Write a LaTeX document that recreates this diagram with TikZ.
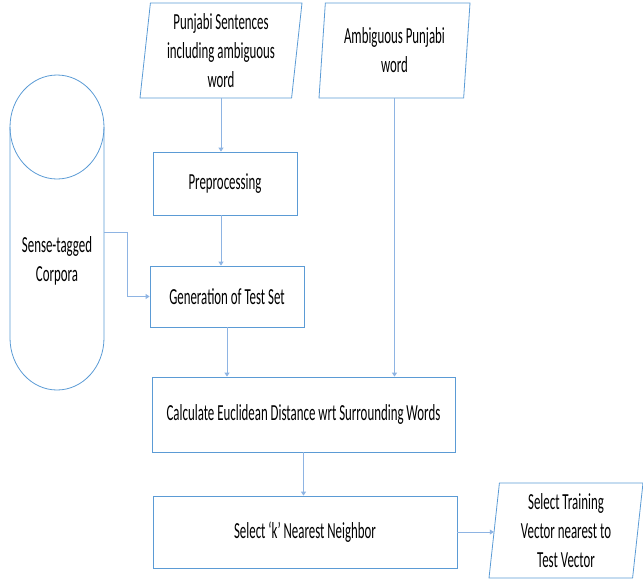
\documentclass[tikz,border=0pt]{standalone}
\usepackage{fontspec}
\setmainfont[FakeStretch=0.56]{Carlito}
\usetikzlibrary{shapes.geometric,arrows.meta}
\definecolor{boxblue}{HTML}{5B9BD5}
\definecolor{linkblue}{HTML}{8EB4E3}
\tikzset{
  stepbox/.style={draw=boxblue, line width=0.8pt, rectangle, inner sep=0pt, align=center},
  inputbox/.style={draw=boxblue, line width=0.8pt, trapezium, trapezium left angle=82,
    trapezium right angle=98, trapezium stretches body, inner sep=0pt, align=center},
  boxline/.style={draw=boxblue, line width=0.8pt},
  link/.style={draw=linkblue, line width=0.8pt, -{Triangle[width=5pt,length=4pt]}},
}
\begin{document}
\begin{tikzpicture}[x=1pt,y=-1pt,font=\fontsize{23}{29}\selectfont]
  \useasboundingbox (0,0) rectangle (643,582);
  % inputs
  \node[inputbox, minimum width=162pt, minimum height=95pt] (sent) at (221,50.5)
    {Punjabi Sentences\\including ambiguous\\word};
  \node[inputbox, minimum width=151pt, minimum height=95pt] (amb) at (394.5,50.5)
    {Ambiguous Punjabi\\word};
  % corpora
  \node[minimum width=94pt, minimum height=315pt, inner sep=0pt,
    label={[align=center, yshift=-28pt]center:Sense-tagged\\Corpora}] (corpora) at (57,232.5) {};
  \draw[boxline] (57,127) ellipse [x radius=47, y radius=52];
  \draw[boxline] (10,127) -- (10,338)
    arc[start angle=180, end angle=0, x radius=47, y radius=52] -- (104,127);
  % steps
  \node[stepbox, minimum width=144pt, minimum height=63pt] (prep) at (225,183.5) {Preprocessing};
  \node[stepbox, minimum width=154pt, minimum height=61pt] (gen) at (227,296.5) {Generation of Test Set};
  \node[stepbox, minimum width=303pt, minimum height=75pt] (calc) at (303.5,414.5)
    {Calculate Euclidean Distance wrt Surrounding Words};
  \node[stepbox, minimum width=304pt, minimum height=72pt] (sel) at (305,532) {Select ‘k’ Nearest Neighbor};
  \node[inputbox, minimum width=154pt, minimum height=95pt] (vec) at (566,530.5)
    {Select Training\\Vector nearest to\\Test Vector};
  % links
  \draw[link] (sent.south) -- (sent.south |- prep.north);
  \draw[link] (prep.south -| sent.south) -- (gen.north -| sent.south);
  \draw[link] (corpora.east) -- ++(23,0) |- (gen.west);
  \draw[link] (gen.south) -- (gen.south |- calc.north);
  \draw[link] (amb.south) -- (amb.south |- calc.north);
  \draw[link] (calc.south) -- (calc.south |- sel.north);
  \draw[link] (sel.east) -- (sel.east -| vec.west);
\end{tikzpicture}
\end{document}
